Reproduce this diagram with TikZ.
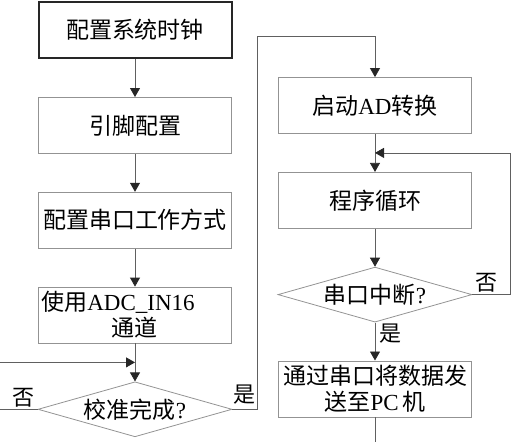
\documentclass[tikz,border=0pt]{standalone}
\usepackage{fontspec}
\setmainfont{Liberation Serif}
\newfontfamily\cjk{Noto Sans CJK SC}
\usetikzlibrary{arrows.meta, positioning, shapes.geometric}

\begin{document}
\begin{tikzpicture}[x=1pt, y=1pt,
    stepbox/.style={rectangle, draw=gray!85, line width=0.8pt,
                    minimum width=193pt, minimum height=56pt, inner sep=1pt,
                    align=center, font=\cjk\fontsize{23}{26}\selectfont},
    startbox/.style={stepbox, draw=black!85, line width=2pt},
    test/.style={diamond, draw=gray!85, line width=0.8pt, aspect=3.5,
                 minimum width=194pt, minimum height=55pt, inner sep=0pt,
                 font=\cjk\fontsize{23}{26}\selectfont},
    lbl/.style={font=\cjk\fontsize{22}{26}\selectfont, inner sep=0pt},
    flow/.style={draw=gray!75!black, line width=0.8pt,
                 -{Triangle[width=10pt, length=9pt, color=black!85]}},
    plain/.style={draw=gray!75!black, line width=0.8pt},
    node distance=38pt
  ]
  \useasboundingbox (0,0) rectangle (512,-442);

  % left column
  \node[startbox] (clock) at (135,-30) {配置系统时钟};
  \node[stepbox, below=of clock] (pins) {引脚配置};
  \node[stepbox, below=of pins] (uartcfg) {配置串口工作方式};
  \node[stepbox, below=of uartcfg] (chan)
    {使用{\rmfamily ADC\_IN16}\hspace*{34pt}\\通道};
  \node[test, below=of chan] (calib) {校准完成{\rmfamily ?}};

  % right column
  \node[stepbox] (adc) at (375,-105.5) {启动{\rmfamily AD}转换};
  \node[stepbox, below=of adc] (loop) {程序循环};
  \node[test, below=of loop] (irq) {串口中断{\rmfamily ?}};
  \node[stepbox, below=of irq] (send) {通过串口将数据发\\送至{\rmfamily PC\,}机};

  % joins and turning points
  \path (chan.south) -- (calib.north) coordinate[pos=0.5] (join1);
  \path (adc.south) -- (loop.north) coordinate[pos=0.5] (join2);
  \coordinate (ret) at (257,-36);

  % main flow
  \draw[flow] (clock) -- (pins);
  \draw[flow] (pins) -- (uartcfg);
  \draw[flow] (uartcfg) -- (chan);
  \draw[flow] (chan) -- (calib);
  \draw[flow] (adc) -- (loop);
  \draw[flow] (loop) -- (irq);
  \draw[flow] (irq) -- node[lbl, pos=0.3, right=4pt] {是} (send);
  \draw[plain] (send.south) -- ++(0,-40);

  % branches
  \draw[flow] (calib.west) -- ++(-45,0) |- (join1);
  \draw[flow] (calib.east) -| (ret) -| (adc.north);
  \draw[flow] (irq.east) -- ++(38,0) |- (join2);

  \node[lbl, above left=2pt and 3pt of calib.west] {否};
  \node[lbl, above right=5pt and 1pt of calib.east] {是};
  \node[lbl, above right=2pt and 3pt of irq.east] {否};
\end{tikzpicture}
\end{document}
